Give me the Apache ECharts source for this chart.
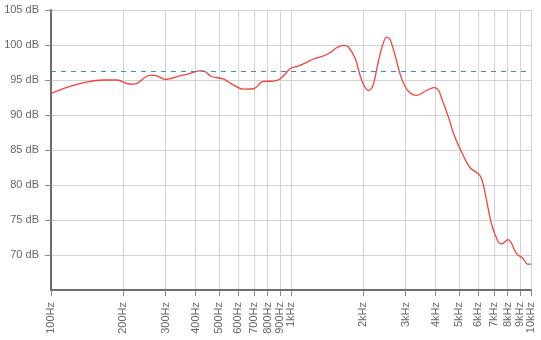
<!DOCTYPE html>
<html>
<head>
<meta charset="utf-8">
<script src="https://cdn.jsdelivr.net/npm/echarts@6/dist/echarts.min.js"></script>
<style>html,body{margin:0;padding:0;background:#fff;}#c{width:541px;height:340px;}</style>
</head>
<body>
<div id="c"></div>
<script>
// Frequency (Hz) and level (dB)
var freqs = [100, 120, 136, 165, 189, 207, 222, 258, 271, 299, 345, 368, 417, 431, 467, 522, 575, 634, 697, 767, 844, 900, 984, 1006, 1056, 1144, 1238, 1341, 1453, 1550, 1650, 1730, 1850, 1970, 2100, 2190, 2310, 2420, 2500, 2580, 2700, 2890, 3090, 3340, 3670, 3940, 4110, 4270, 4570, 4750, 5060, 5560, 6110, 6350, 6840, 7290, 7530, 8030, 8700, 9270, 9660, 10000];
var levels = [93.1, 94.1, 94.6, 95.0, 95.0, 94.5, 94.4, 95.65, 95.65, 95.1, 95.6, 95.8, 96.3, 96.3, 95.5, 95.15, 94.3, 93.7, 93.75, 94.8, 94.85, 95.15, 96.5, 96.75, 96.9, 97.4, 98.0, 98.35, 98.9, 99.6, 99.95, 99.75, 98.1, 95.0, 93.5, 94.1, 97.6, 100.2, 101.1, 100.9, 98.8, 95.2, 93.35, 92.8, 93.5, 93.9, 93.6, 92.1, 89.3, 87.4, 85.2, 82.5, 81.4, 79.8, 74.5, 71.9, 71.6, 72.2, 70.2, 69.5, 68.7, 68.7];
var referenceLevel = 96.3;
var xTickValues = [100, 200, 300, 400, 500, 600, 700, 800, 900, 1000, 2000, 3000, 4000, 5000, 6000, 7000, 8000, 9000, 10000];
var xTickLabels = ['100Hz', '200Hz', '300Hz', '400Hz', '500Hz', '600Hz', '700Hz', '800Hz', '900Hz', '1kHz', '2kHz', '3kHz', '4kHz', '5kHz', '6kHz', '7kHz', '8kHz', '9kHz', '10kHz'];
var yTickValues = [70, 75, 80, 85, 90, 95, 100, 105];

var labelMap = {};
xTickValues.forEach(function (v, i) { labelMap[v] = xTickLabels[i]; });

var chart = echarts.init(document.getElementById('c'), null, {renderer: 'canvas'});
chart.setOption({
  animation: false,
  backgroundColor: '#fff',
  grid: {left: 51, right: 10, top: 10, bottom: 50, containLabel: false},
  xAxis: {
    type: 'log',
    logBase: 10,
    min: 100,
    max: 10000,
    axisLine: {show: true, lineStyle: {color: '#6e6e6e', width: 2}},
    axisTick: {show: true, customValues: xTickValues, length: 6, lineStyle: {color: '#888', width: 1}},
    axisLabel: {
      customValues: xTickValues,
      rotate: 90,
      margin: 12,
      fontFamily: 'Liberation Sans, Arial, sans-serif',
      fontSize: 11,
      color: '#666',
      formatter: function (v) { return labelMap[Math.round(v)] || ''; }
    },
    splitLine: {show: true, lineStyle: {color: '#d2d2d2', width: 1}},
    minorSplitLine: {show: false}
  },
  yAxis: {
    type: 'value',
    min: 65,
    max: 105,
    interval: 5,
    axisLine: {show: true, lineStyle: {color: '#6e6e6e', width: 2}},
    axisTick: {show: true, customValues: yTickValues, length: 6, lineStyle: {color: '#888', width: 1}},
    axisLabel: {
      customValues: yTickValues,
      margin: 12,
      fontFamily: 'Liberation Sans, Arial, sans-serif',
      fontSize: 11,
      color: '#666',
      formatter: function (v) { return v + ' dB'; }
    },
    splitLine: {show: true, lineStyle: {color: '#d2d2d2', width: 1}}
  },
  series: [{
    type: 'line',
    data: freqs.map(function (f, i) { return [f, levels[i]]; }),
    smooth: 0.35,
    showSymbol: false,
    lineStyle: {color: '#f0453a', width: 1.3},
    markLine: {
      silent: true,
      symbol: ['none', 'none'],
      label: {show: false},
      lineStyle: {color: '#3a8cc4', type: [5, 5], width: 1},
      data: [{yAxis: referenceLevel}]
    }
  }]
});
</script>
</body>
</html>
